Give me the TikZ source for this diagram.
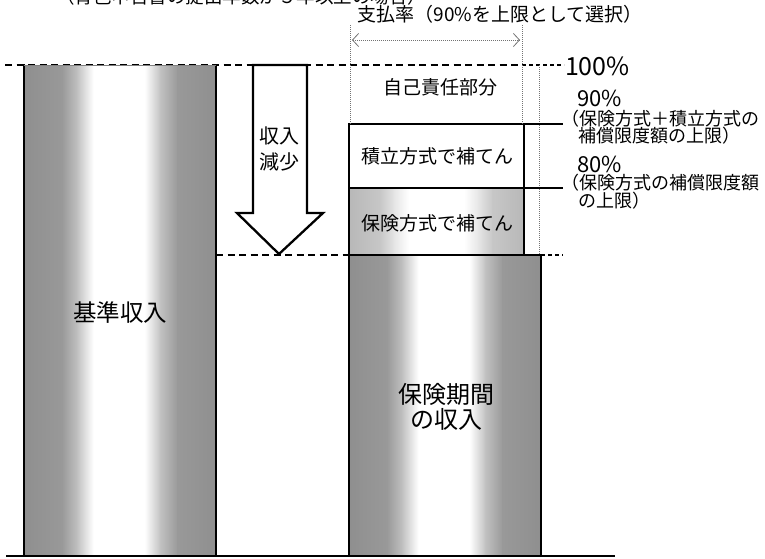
\documentclass[tikz,border=0pt]{standalone}
\usepackage{fontspec}
\setmainfont{Noto Sans CJK JP}
\usetikzlibrary{arrows.meta}
% cylinder-like shading built from exact left/right colour strips
% #1 left x, #2 right x, #3 top y, #4 bottom y, #5 list macro of fa/fb/ca/cb
\newcommand{\mybarshade}[5]{%
  \pgfmathsetmacro{\mywidth}{#2-#1}%
  \foreach \fa/\fb/\ca/\cb in #5 {%
    \shade[left color=black!\ca, right color=black!\cb]
      ({#1+\fa*\mywidth-0.4},#3) rectangle ({#1+\fb*\mywidth+0.4},#4);
  }%
}
\tikzset{
  fs/.style={font=\fontsize{#1}{#1}\selectfont},
  shapebox/.style={inner sep=0pt, outer sep=0pt, rectangle},
  txt/.style={inner sep=0pt, outer sep=0pt, align=left},
  border/.style={line width=2.6pt, line cap=rect},
  dashline/.style={line width=1.8pt, dash pattern=on 7pt off 4.5pt},
  dotline/.style={line width=0.9pt, black!55, dash pattern=on 1pt off 1pt},
  levelline/.style={line width=1.8pt},
}
\def\darklist{0/0.2/44/40, 0.2/0.28/40/24, 0.28/0.36/24/0, 0.63/0.71/0/24, 0.71/0.8/24/40, 0.8/1/40/44}
\def\lightlist{0/0.18/28/22, 0.18/0.26/22/10, 0.26/0.34/10/0, 0.66/0.74/0/10, 0.74/0.82/10/22, 0.82/1/22/28}
\begin{document}
\begin{tikzpicture}[x=1pt,y=-1pt]
\useasboundingbox (0,0) rectangle (765,558);
\clip (0,0) rectangle (765,558);

% cut-off heading
\node[txt, fs=18.5, anchor=west] (cond) at (56,-4) {（青色申告書の提出年数が５年以上の場合）};

% payment rate title and span arrow
\node[txt, fs=19] (rate) at (500,14) {支払率（90\%を上限として選択）};
\coordinate (rL) at (350,25);
\coordinate (rR) at (522,25);
\coordinate (aL) at (352,40);
\coordinate (aR) at (520,40);
\draw[dotline, {Straight Barb[length=6pt,width=13pt,line width=0.8pt]}-{Straight Barb[length=6pt,width=13pt,line width=0.8pt]}] (aL) -- (aR);

% reference levels
\coordinate (d1L) at (5,65);
\coordinate (d1R) at (522,65);
\coordinate (d1E) at (564,65);
\draw[dashline] (d1L) -- (d1R);
\draw[dashline, line width=1.4pt, dash pattern=on 4pt off 3pt] (d1R) -- (d1E);
\coordinate (d2L) at (216,255);
\coordinate (d2R) at (349,255);
\draw[dashline] (d2L) -- (d2R);
\coordinate (d3L) at (541,255);
\coordinate (d3R) at (563,255);
\draw[dashline, dash pattern=on 4pt off 3pt] (d3L) -- (d3R);

% left bar: base income
\node[shapebox, minimum width=192pt, minimum height=491pt, fill=white] (base) at (120,310.5) {};
\mybarshade{24}{216}{65}{556}{\darklist}
\draw[border] (base.north west) -- (base.south west);
\draw[border] (base.north east) -- (base.south east);
\draw[line width=0.8pt, black!50] (base.north west) -- (base.north east);
\node[txt, fs=23.5] (baselbl) at (120,313) {基準収入};

% right bar: income during insurance period
\node[shapebox, minimum width=192pt, minimum height=301pt, fill=white] (period) at (445,405.5) {};
\mybarshade{349}{541}{255}{556}{\darklist}
\draw[border] (period.south west) -- (period.north west) -- (period.north east) -- (period.south east);
\node[txt, fs=24, align=center] (periodlbl) at (446,407) {保険期間\\[1pt]の収入};

% compensation boxes
\node[shapebox, minimum width=175pt, minimum height=67pt, fill=white] (hoken) at (436.5,221.5) {};
\mybarshade{349}{524}{188}{255}{\lightlist}
\draw[border] (hoken.south west) rectangle (hoken.north east);
\node[txt, fs=19] (hokenlbl) at (437,223) {保険方式で補てん};

\node[shapebox, minimum width=175pt, minimum height=64pt, fill=white] (tsumi) at (436.5,156) {};
\draw[border] (tsumi.south west) rectangle (tsumi.north east);
\node[txt, fs=19] (tsumilbl) at (437,156) {積立方式で補てん};

% self-responsibility part
\node[txt, fs=19] (selflbl) at (440,87) {自己責任部分};
\draw[dotline] (rL) -- (rL |- tsumi.north);
\draw[dotline] (rR) -- (rR |- tsumi.north);
\coordinate (vT) at (539,65);
\coordinate (vB) at (539,255);
\draw[dotline] (vT) -- (vB);

% level lines to the right
\coordinate (l90) at (563,124);
\coordinate (l80) at (563,188);
\draw[levelline] (tsumi.north east) -- (l90);
\draw[levelline] (tsumi.south east) -- (l80);

% right labels
\node[txt, fs=25, anchor=west] (p100) at (565,66) {100\%};
\node[txt, fs=22, anchor=west] (p90) at (577,98) {90\%};
\node[txt, fs=18, anchor=west] (p90a) at (561,119) {（保険方式＋積立方式の};
\node[txt, fs=18, anchor=west] (p90b) at (578,136) {補償限度額の上限）};
\node[txt, fs=22, anchor=west] (p80) at (577,164) {80\%};
\node[txt, fs=18, anchor=west] (p80a) at (561,183) {（保険方式の補償限度額};
\node[txt, fs=18, anchor=west] (p80b) at (578,201) {の上限）};

% income decrease arrow
\draw[line width=2.3pt, fill=white, line join=miter] (253,65) -- (307,65) -- (307,213) -- (323,213) -- (279,254) -- (237,213) -- (253,213) -- cycle;
\node[txt, fs=20, align=center] (decr) at (279,149) {収入\\[6pt]減少};

% ground line
\coordinate (gL) at (6,556);
\coordinate (gR) at (615,556);
\draw[line width=1.2pt] (gL) -- (gR);
\end{tikzpicture}
\end{document}
